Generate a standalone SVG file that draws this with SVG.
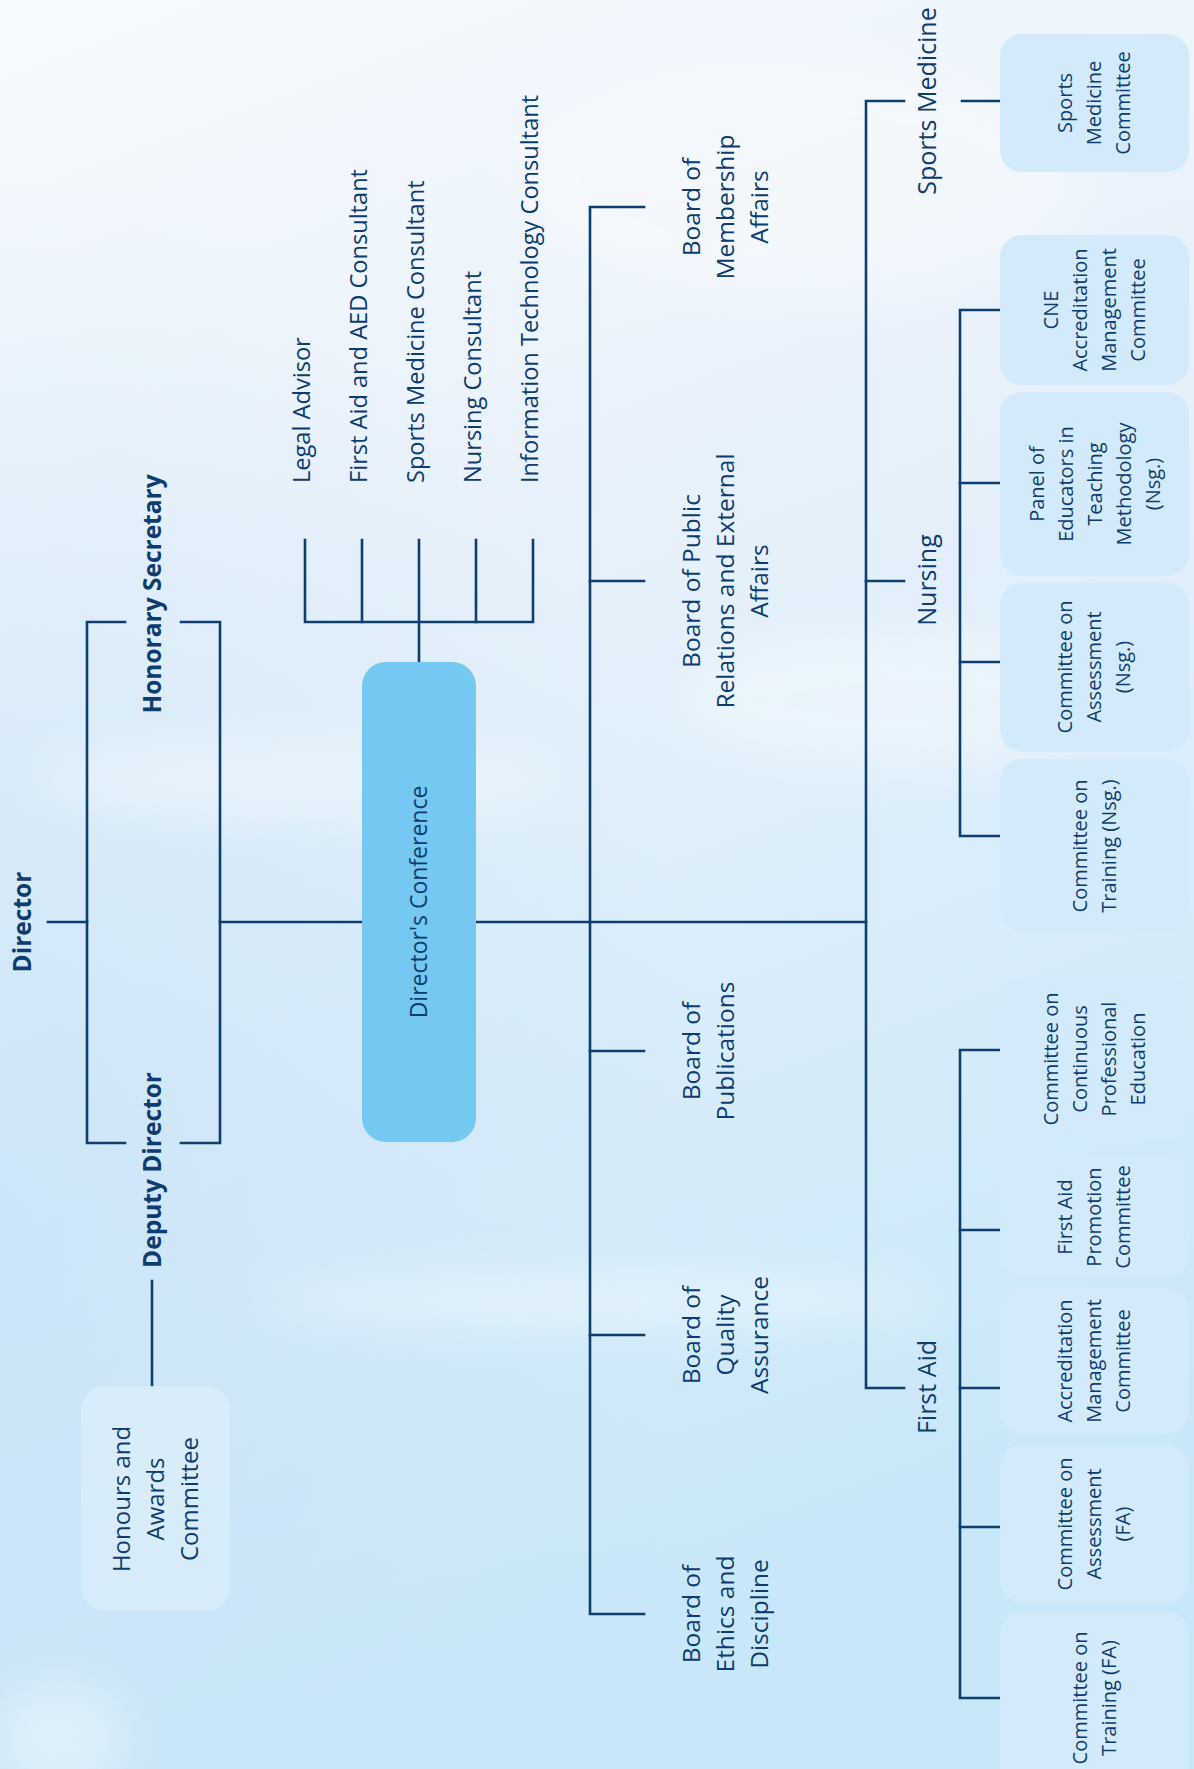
<svg xmlns="http://www.w3.org/2000/svg" width="1194" height="1769" viewBox="0 0 1194 1769">
<defs>
<linearGradient id="sky" x1="0" y1="0" x2="0.25" y2="1">
<stop offset="0" stop-color="#f7fafd"/>
<stop offset="0.35" stop-color="#e9f2fb"/>
<stop offset="0.7" stop-color="#d8ecfa"/>
<stop offset="1" stop-color="#c8e7f8"/>
</linearGradient>
<radialGradient id="leftblue" cx="0" cy="0.7" r="0.6">
<stop offset="0" stop-color="#c6e2f7" stop-opacity="0.7"/>
<stop offset="1" stop-color="#c6e2f7" stop-opacity="0"/>
</radialGradient>
<filter id="blur" x="-50%" y="-50%" width="200%" height="200%"><feGaussianBlur stdDeviation="22"/></filter>
<style>
.ln{fill:none;stroke:#0d3e70;stroke-width:2.6;stroke-linecap:square}
text{font-family:"Open Sans","Noto Sans","DejaVu Sans",sans-serif;fill:#0c3d6e}
.ttl{font-weight:700;font-size:24.5px}
.cons{font-size:23.6px}
.brd{font-size:24.5px}
.div{font-size:25px}
.cm{font-size:20px}
.hon{font-size:24px}
.dc{font-size:23px}
.box{fill:#d3eafa}
.hbox{fill:#d9ecf9;fill-opacity:0.85}
</style>
</defs>

<rect width="1194" height="1769" fill="url(#sky)"/>
<rect width="1194" height="1769" fill="url(#leftblue)"/>
<g filter="url(#blur)" fill="#ffffff" opacity="0.35">
<ellipse cx="800" cy="180" rx="280" ry="120"/>
<ellipse cx="300" cy="780" rx="260" ry="40"/>
<ellipse cx="600" cy="1300" rx="340" ry="30"/>
<ellipse cx="60" cy="1740" rx="70" ry="60"/>
<ellipse cx="900" cy="700" rx="220" ry="70"/>
</g>

<g id="connectors">
<path class="ln" d="M48 922H87"/>
<path class="ln" d="M125 622H87V1143H125"/>
<path class="ln" d="M181 622H220V1143H181"/>
<path class="ln" d="M220 922H362"/>
<path class="ln" d="M476 922H866"/>
<path class="ln" d="M305 540V622H533V540"/>
<path class="ln" d="M362 540V622M419 540V662M476 540V622"/>
<path class="ln" d="M152 1281V1386"/>
<path class="ln" d="M644 207H590V1614H644"/>
<path class="ln" d="M590 581H644M590 1051H644M590 1335H644"/>
<path class="ln" d="M904 101H866V1388H904"/>
<path class="ln" d="M866 581H904"/>
<path class="ln" d="M962 101H1000"/>
<path class="ln" d="M1000 310H960V836H1000"/>
<path class="ln" d="M960 483H1000M960 662H1000"/>
<path class="ln" d="M1000 1050H960V1698H1000"/>
<path class="ln" d="M960 1230H1000M960 1388H1000M960 1527H1000"/>
</g>

<g id="director"><text class="ttl" text-anchor="middle" transform="translate(31,922) rotate(-90)">Director</text></g>
<g id="honorary-secretary"><text class="ttl" text-anchor="middle" transform="translate(161,594) rotate(-90)">Honorary Secretary</text></g>
<g id="deputy-director"><text class="ttl" text-anchor="middle" transform="translate(161,1170) rotate(-90)">Deputy Director</text></g>

<g id="honours">
<rect class="hbox" x="81" y="1386" width="149" height="225" rx="24"/>
<text class="hon" text-anchor="middle" transform="translate(130,1499) rotate(-90)"><tspan x="0" y="0">Honours and</tspan><tspan x="0" y="34">Awards</tspan><tspan x="0" y="68">Committee</tspan></text>
</g>

<g id="directors-conference">
<rect x="362" y="662" width="114" height="480" rx="24" fill="#74c8f1"/>
<text class="dc" text-anchor="middle" transform="translate(427,902) rotate(-90)">Director's Conference</text>
</g>

<g id="consultants">
<text class="cons" transform="translate(310,483) rotate(-90)">Legal Advisor</text>
<text class="cons" transform="translate(367,483) rotate(-90)">First Aid and AED Consultant</text>
<text class="cons" transform="translate(424,483) rotate(-90)">Sports Medicine Consultant</text>
<text class="cons" transform="translate(481,483) rotate(-90)">Nursing Consultant</text>
<text class="cons" transform="translate(538,483) rotate(-90)">Information Technology Consultant</text>
</g>

<g id="board-membership"><text class="brd" text-anchor="middle" transform="translate(700,207) rotate(-90)"><tspan x="0" y="0">Board of</tspan><tspan x="0" y="34">Membership</tspan><tspan x="0" y="68">Affairs</tspan></text></g>
<g id="board-pr"><text class="brd" text-anchor="middle" transform="translate(700,581) rotate(-90)"><tspan x="0" y="0">Board of Public</tspan><tspan x="0" y="34">Relations and External</tspan><tspan x="0" y="68">Affairs</tspan></text></g>
<g id="board-publications"><text class="brd" text-anchor="middle" transform="translate(700,1051) rotate(-90)"><tspan x="0" y="0">Board of</tspan><tspan x="0" y="34">Publications</tspan></text></g>
<g id="board-qa"><text class="brd" text-anchor="middle" transform="translate(700,1335) rotate(-90)"><tspan x="0" y="0">Board of</tspan><tspan x="0" y="34">Quality</tspan><tspan x="0" y="68">Assurance</tspan></text></g>
<g id="board-ethics"><text class="brd" text-anchor="middle" transform="translate(700,1614) rotate(-90)"><tspan x="0" y="0">Board of</tspan><tspan x="0" y="34">Ethics and</tspan><tspan x="0" y="68">Discipline</tspan></text></g>

<g id="div-sports"><text class="div" text-anchor="middle" transform="translate(936,101) rotate(-90)">Sports Medicine</text></g>
<g id="div-nursing"><text class="div" text-anchor="middle" transform="translate(936,580) rotate(-90)">Nursing</text></g>
<g id="div-firstaid"><text class="div" text-anchor="middle" transform="translate(936,1387) rotate(-90)">First Aid</text></g>

<g id="c-sports-med">
<rect class="box" x="1000" y="34" width="189" height="138" rx="22"/>
<text class="cm" text-anchor="middle" transform="translate(1072,103) rotate(-90)"><tspan x="0" y="0">Sports</tspan><tspan x="0" y="29">Medicine</tspan><tspan x="0" y="58">Committee</tspan></text>
</g>
<g id="c-cne">
<rect class="box" x="1000" y="235" width="189" height="150" rx="22"/>
<text class="cm" text-anchor="middle" transform="translate(1058,310) rotate(-90)"><tspan x="0" y="0">CNE</tspan><tspan x="0" y="29">Accreditation</tspan><tspan x="0" y="58">Management</tspan><tspan x="0" y="87">Committee</tspan></text>
</g>
<g id="c-panel">
<rect class="box" x="1000" y="392" width="189" height="184" rx="22"/>
<text class="cm" text-anchor="middle" transform="translate(1043.5,484) rotate(-90)"><tspan x="0" y="0">Panel of</tspan><tspan x="0" y="29">Educators in</tspan><tspan x="0" y="58">Teaching</tspan><tspan x="0" y="87">Methodology</tspan><tspan x="0" y="116">(Nsg.)</tspan></text>
</g>
<g id="c-assess-nsg">
<rect class="box" x="1000" y="583" width="189" height="169" rx="22"/>
<text class="cm" text-anchor="middle" transform="translate(1072,667) rotate(-90)"><tspan x="0" y="0">Committee on</tspan><tspan x="0" y="29">Assessment</tspan><tspan x="0" y="58">(Nsg.)</tspan></text>
</g>
<g id="c-train-nsg">
<rect class="box" x="1000" y="759" width="189" height="173" rx="22"/>
<text class="cm" text-anchor="middle" transform="translate(1087,846) rotate(-90)"><tspan x="0" y="0">Committee on</tspan><tspan x="0" y="29">Training (Nsg.)</tspan></text>
</g>
<g id="c-cpe">
<rect class="box" x="1000" y="977" width="189" height="165" rx="22"/>
<text class="cm" text-anchor="middle" transform="translate(1058,1059) rotate(-90)"><tspan x="0" y="0">Committee on</tspan><tspan x="0" y="29">Continuous</tspan><tspan x="0" y="58">Professional</tspan><tspan x="0" y="87">Education</tspan></text>
</g>
<g id="c-fa-promotion">
<rect class="box" x="1000" y="1156" width="189" height="122" rx="22"/>
<text class="cm" text-anchor="middle" transform="translate(1072,1217) rotate(-90)"><tspan x="0" y="0">First Aid</tspan><tspan x="0" y="29">Promotion</tspan><tspan x="0" y="58">Committee</tspan></text>
</g>
<g id="c-accreditation">
<rect class="box" x="1000" y="1288" width="189" height="146" rx="22"/>
<text class="cm" text-anchor="middle" transform="translate(1072,1361) rotate(-90)"><tspan x="0" y="0">Accreditation</tspan><tspan x="0" y="29">Management</tspan><tspan x="0" y="58">Committee</tspan></text>
</g>
<g id="c-assess-fa">
<rect class="box" x="1000" y="1445" width="189" height="158" rx="22"/>
<text class="cm" text-anchor="middle" transform="translate(1072,1524) rotate(-90)"><tspan x="0" y="0">Committee on</tspan><tspan x="0" y="29">Assessment</tspan><tspan x="0" y="58">(FA)</tspan></text>
</g>
<g id="c-train-fa">
<rect class="box" x="1000" y="1611" width="189" height="180" rx="22"/>
<text class="cm" text-anchor="middle" transform="translate(1087,1698) rotate(-90)"><tspan x="0" y="0">Committee on</tspan><tspan x="0" y="29">Training (FA)</tspan></text>
</g>
</svg>
